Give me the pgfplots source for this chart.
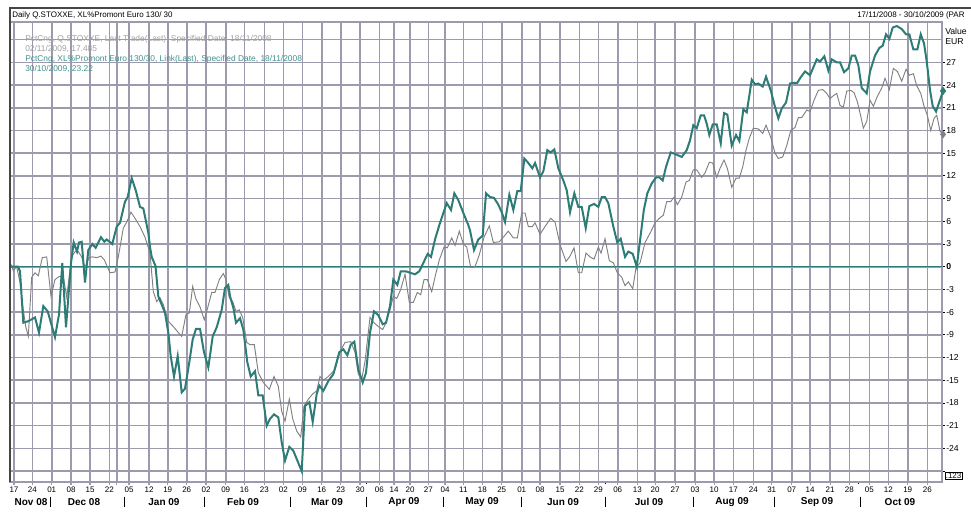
\documentclass[border=0pt]{standalone}
\usepackage{pgfplots}
\pgfplotsset{compat=1.18}
\usepackage{fontspec}
\setmainfont{Liberation Sans}
\definecolor{gridcol}{RGB}{156,154,172}
\definecolor{tealcol}{RGB}{46,124,118}
\definecolor{greycol}{RGB}{128,128,128}
\definecolor{legGrey}{RGB}{160,160,160}
\definecolor{legTeal}{RGB}{64,145,138}
\definecolor{framecol}{RGB}{70,70,70}
\begin{document}
\begin{tikzpicture}
\begin{axis}[
  name=ax, anchor=south west, at={(7.5pt,24.75pt)},
  scale only axis, width=698.8pt, height=345pt,
  xmin=10, xmax=941.7, ymin=-28.44, ymax=32.33,
  clip=false,
  axis line style={draw=gridcol, line width=1.2pt},
  xmajorgrids, ymajorgrids,
  grid style={draw=gridcol, line width=1.2pt},
  xtick pos=left, ytick pos=right,
  tick align=outside,
  major tick length=2.4pt, minor tick length=1.6pt,
  x tick style={draw=gridcol, line width=0.8pt},
  y tick style={draw=black, line width=0.6pt},
  minor x tick style={draw=black, line width=0.6pt},
  xtick={14,32.3,51.7,71,90,109.3,116.7,129,149,167.7,186.7,206,225.7,244.3,264.3,283.3,302.3,321.7,340.7,360,379.3,394,410,428.3,445,463.3,482.3,501.7,521.7,540,560,579.3,598.3,617.7,637.3,655,675,695,714,733.3,753.3,771.7,791.7,810,830,849.3,869.3,888.3,907.7,927.3},
  xticklabels={17,24,01,08,15,22,{},05,12,19,26,02,09,16,23,02,09,16,23,30,06,14,20,27,04,11,18,25,01,08,15,22,29,06,13,20,27,03,10,17,24,31,07,14,21,28,05,12,19,26},
  minor xtick={366.7,605,858.3},
  xticklabel style={font=\fontsize{6}{7}\selectfont, inner sep=0.8pt, anchor=north},
  ytick={-27,-24,...,27},
  yticklabels={{},-24,-21,-18,-15,-12,-9,-6,-3,\textbf{0},3,6,9,12,15,18,21,24,27},
  extra y ticks={30}, extra y tick labels={},
  extra y tick style={major tick length=0pt},
  yticklabel style={font=\fontsize{6.5}{7.5}\selectfont, inner sep=0.8pt, anchor=west},
]
\addplot[tealcol, line width=1.1pt, forget plot] coordinates {(10,0) (941.7,0)};
\addplot[greycol, line width=0.7pt] table {
x y
11 0.3
13.3 -0.5
16.7 0
20 -2.1
23.3 -5.7
25.7 -7.9
28.3 -9.2
31.7 -1.4
35 -0.8
38.3 -1.2
42.3 1.2
46.7 1.3
51 -3.9
55 -1.7
59 -1.3
63.3 -1.3
66.7 -4.0
71.7 1.3
75 2.0
78.3 2.0
81.7 1.3
85 -0.1
89 1.2
92.3 1.3
96.7 1.2
101 1.4
104.3 0.9
110 -0.8
115 -0.7
118.3 1.3
123.3 5.1
126.7 5.9
131 7.2
135 6.4
140 5.3
145 3.9
150 1.8
153.3 -3.3
156.7 -4.6
160 -4.1
163.3 -5.0
168.3 -7.2
173.3 -7.9
178.3 -8.7
181.7 -9.2
186 -6.3
189.3 -6.1
192.7 -2.6
196 -4.3
200 -5.3
204.3 -7.0
207.7 -5.4
211.7 -3.4
215 -3.4
219.3 -1.7
223.3 -0.9
226 -1.7
229.3 -4.1
232.7 -4.6
236 -5.9
239.3 -5.7
242.7 -6.7
246.7 -10.0
250 -10.3
254.3 -10.3
258.3 -14.0
263.3 -15.3
269.3 -16.2
274 -14.5
278.3 -15.8
281.7 -19.1
285 -20.4
289.3 -17.5
292.7 -20.1
296.7 -21.7
300.7 -22.5
304 -18.4
308.3 -17.5
312.7 -16.8
316.7 -16.4
320 -14.5
323.3 -15.0
328.3 -14.5
335 -13.6
340 -11.2
345 -10.0
350.7 -9.9
355 -11.3
358.3 -14.2
361.7 -14.9
365 -12.5
370 -6.7
374 -7.4
378.3 -7.9
382.7 -8.3
386 -7.4
390 -5.7
393.3 -3.9
396.7 -4.2
400.7 -3.0
405 -1.0
409.3 -4.7
413.3 -4.7
417.3 -3.4
420.7 -3.7
424 -1.7
427.3 -1.7
431.7 -3.3
436 -0.8
439.3 0.9
444 2.6
447.3 2.5
451.7 3.8
455 2.8
459.3 4.7
463.3 3.0
466.7 2.6
470.7 -0.1
475 0
479.3 1.6
484 3.9
489.3 5.4
493.3 3.2
499.3 3.3
503.3 3.9
508.3 4.7
513.3 3.8
517.3 3.8
521.7 7.1
525 7.1
528.3 5.3
532.3 5.3
535 5.8
540 4.3
545 5.3
550.7 6.4
555 5.9
560 2.9
566 0.7
570 1.4
574 2.5
578.3 -0.8
581.7 -0.8
586 1.8
590 1.3
594 1.0
598.3 2.6
601 1.8
605 3.7
609.3 0.8
613.3 0.5
617.3 -0.8
621.7 -1.4
625 -2.5
628.3 -2.0
632.7 -2.9
636 -0.1
640 0.5
645 3.2
650.7 4.6
655 5.8
659.3 6.4
663.3 6.8
666.7 8.6
670.7 8.6
674 9.2
677.3 8.2
681.7 9.2
686 11.2
689.3 11.4
693.3 12.8
696.7 12.8
701.7 11.8
705 12.4
709.3 13.8
712.7 13.7
716.7 11.8
720 13.0
724 14.1
727.3 13.0
731.7 10.5
736 11.7
739.3 11.7
742.7 13.2
746 15.4
749.3 17.0
753.3 18.3
758.3 18.2
762.7 17.6
766 18.7
770.7 17.1
775 15.0
778.3 14.3
782.7 14.5
786.7 16.0
790.7 18.0
795 18.4
798.3 19.7
801.7 19.7
806.7 20.7
810 20.5
814 22.0
818.3 23.3
822.7 23.4
826.7 22.9
830 22.2
833.3 22.6
836.7 22.9
840 21.3
843.3 21.1
846.7 23.2
850.7 23.3
854 23.0
857.3 21.8
860.7 19.9
863.3 18.3
866.7 19.2
870 22.0
873.3 21.2
877.3 22.5
881.7 23.6
885 24.9
889.3 23.4
893.3 26.2
897.3 25.8
901.7 24.5
906 26.1
909.3 25.3
913.3 25.5
916.7 23.9
920.7 22.9
924 21.2
927.3 20.0
930.7 18.0
934 19.6
936.7 20.0
940 17.9
943 17.485
};
\addplot[tealcol, line width=1.5pt] table {
x y
11 0
18 0
20 -0.6
23.3 -7.4
28.3 -7.2
35 -6.7
39 -8.7
43.3 -5.2
47.7 -5.9
55 -9.3
59 -6.3
62.3 0.5
66 -8.0
71 0.5
73.7 3.2
77 2.0
79 3.2
81.7 3.3
85 -2.1
88.3 2.2
92.3 3.0
95.7 2.5
101 3.9
104.3 3.3
106.7 3.6
112.3 3.0
116.7 5.3
120 5.8
125 8.6
127.7 9.2
131.7 11.7
135.7 10.1
140 7.9
143.3 7.7
148.3 4.5
150 2.6
151.7 1.3
155.5 0.1
158.3 -3.9
165 -6.1
168.3 -8.7
170.7 -11.8
174 -14.5
177.7 -11.8
181.7 -16.6
185 -16.1
189.3 -12.6
192.7 -9.6
196 -8.2
200 -8.2
204 -11.3
208.3 -13.3
212.7 -9.2
216.7 -8.0
221.7 -5.7
225 -2.8
228.3 -2.4
230 -3.9
233.3 -5.4
236 -7.4
240 -6.8
243.3 -8.3
247.3 -12.6
250.7 -14.5
255 -13.8
258.3 -17.0
262.7 -17.0
266.7 -21.0
270 -20.1
274 -19.5
278.3 -19.9
281.7 -23.2
285 -25.6
289.3 -23.8
293.3 -24.3
297.3 -25.6
301.7 -27.0
305 -18.4
309.3 -17.9
312.7 -20.5
316.7 -16.8
319.3 -15.7
323.3 -16.4
328.3 -15.1
333.3 -14.2
339.3 -11.3
343.3 -10.9
347.3 -11.7
350.7 -10.3
354.3 -9.9
358.3 -13.6
362.7 -15.3
366 -14.0
370 -8.7
374 -5.9
378.3 -6.4
382.7 -7.6
386 -7.4
390 -5.2
393.3 -1.7
397.3 -2.4
400.7 -0.6
406 -0.6
410 -0.8
415 -1.0
419.3 -0.6
423.3 0.5
427.7 1.7
431 1.3
435 3.6
440 5.8
446.7 8.4
451 7.5
454.3 9.7
458.3 8.8
463.3 7.1
468.3 5.5
470 4.8
474 2.2
478.3 3.6
482.7 4.1
486 9.7
490 9.2
494 9.1
498.3 8.2
501.7 7.2
505 5.9
509.3 9.5
513.3 7.5
517.3 10.0
520.7 10.0
524.3 14.3
528.3 13.7
532.3 13.0
535 13.7
540 11.8
543.3 12.6
547.3 15.4
550.7 15.1
554.3 15.5
558.3 13.0
563.3 11.4
566.7 10.1
570 7.2
574.3 9.7
578.3 7.9
581.7 7.9
585.7 5.1
589.3 8.0
594 8.3
598.3 7.9
601.7 9.2
605 9.2
608.3 8.4
613.3 5.3
617.3 3.2
620.7 3.7
625 1.3
628.3 2.0
632.7 1.7
636.7 0
640.5 4.0
643.8 7.5
647.3 9.7
651.7 11.0
656 11.8
659.3 11.8
662.7 11.4
666 13.2
670.7 15.1
675 14.9
681.7 14.5
686.7 15.4
690 16.7
693.3 18.7
696.7 18.3
700.7 20.0
704 20.0
706.7 18.9
709.3 17.4
712.7 18.8
716.7 18.8
720.7 16.3
724 20.3
727.3 20.1
731.7 16.0
736 17.4
739.3 16.6
743.3 20.8
746.7 20.4
751.7 24.7
755 24.1
758.3 24.2
762.7 23.8
766 25.1
770.7 23.3
775 21.1
778.3 19.6
781.7 20.9
786 21.7
790 24.2
794 24.3
797.3 24.3
800 24.9
805 25.8
810 25.3
816.7 27.4
820 27.1
824.3 27.8
828.3 25.9
831.7 27.4
836.7 27.0
840 27.0
844 25.7
848.3 26.2
851.7 27.9
855 27.9
858.3 26.6
861.7 23.6
866.7 22.9
870 25.8
875 27.9
879.3 28.9
882.7 29.2
886 30.7
889.3 30.1
892.7 31.6
896.7 31.8
901.7 31.4
906 30.7
909.3 30.7
913.3 28.7
917.3 28.7
920.7 30.7
924 29.5
926.7 27.1
930 23.3
932.7 21.2
936 20.5
943 23.22
};
\addplot[only marks, mark=diamond*, mark size=2.6pt, color=greycol] coordinates {(943,17.485)};
\addplot[only marks, mark=diamond*, mark size=2.8pt, color=tealcol] coordinates {(943,23.22)};
\end{axis}
\begin{scope}[x=0.75pt, y=-0.75pt, yshift=386.25pt]
  \draw[framecol, line width=1.1pt] (10,482) -- (10,8) -- (971,8);
  \node[anchor=west, inner sep=0pt, font=\fontsize{6}{7}\selectfont] at (12,15.5) {Daily Q.STOXXE, XL\%Promont Euro 130/ 30};
  \node[anchor=west, inner sep=0pt, font=\fontsize{6}{7}\selectfont] at (857,15.5) {17/11/2008 - 30/10/2009 (PAR};
  \node[anchor=west, inner sep=0pt, text=legGrey, font=\fontsize{6.3}{7}\selectfont] at (25,39.3) {PctCng, Q.STOXXE, Last Trade(Last), Specified Date, 18/11/2008};
  \node[anchor=west, inner sep=0pt, text=legGrey, font=\fontsize{6.3}{7}\selectfont] at (25,49.3) {02/11/2009, 17.485};
  \node[anchor=west, inner sep=0pt, text=legTeal, font=\fontsize{6.3}{7}\selectfont] at (25,59.3) {PctCng, XL\%Promont Euro 130/30, Link(Last), Specified Date, 18/11/2008};
  \node[anchor=west, inner sep=0pt, text=legTeal, font=\fontsize{6.3}{7}\selectfont] at (25,69.3) {30/10/2009, 23.22};
  \node[anchor=west, inner sep=0pt, font=\fontsize{6.5}{7.5}\selectfont] at (945,31) {Value};
  \node[anchor=west, inner sep=0pt, font=\fontsize{6.5}{7.5}\selectfont] at (945,42) {EUR};
  \node[anchor=west, draw, line width=0.5pt, inner sep=0.7pt, font=\fontsize{6}{7}\selectfont] at (944.5,476) {.123};
  \foreach \mx/\mt in {31/Nov 08, 84/Dec 08, 164/Jan 09, 243/Feb 09, 327/Mar 09, 404/Apr 09, 482/May 09, 563/Jun 09, 649/Jul 09, 732/Aug 09, 817/Sep 09, 900/Oct 09}
    \node[inner sep=0pt, font=\fontsize{7.5}{8.5}\selectfont\bfseries] at (\mx,502) {\mt};
  \foreach \sx in {50.7,124,204,290,366.7,443.3,521,605,693.3,774.3,860}
    \draw[black, line width=0.7pt] (\sx,496.5) -- (\sx,507);
\end{scope}
\pgfresetboundingbox
\useasboundingbox (0,0) rectangle (728.25pt,386.25pt);
\end{tikzpicture}
\end{document}
